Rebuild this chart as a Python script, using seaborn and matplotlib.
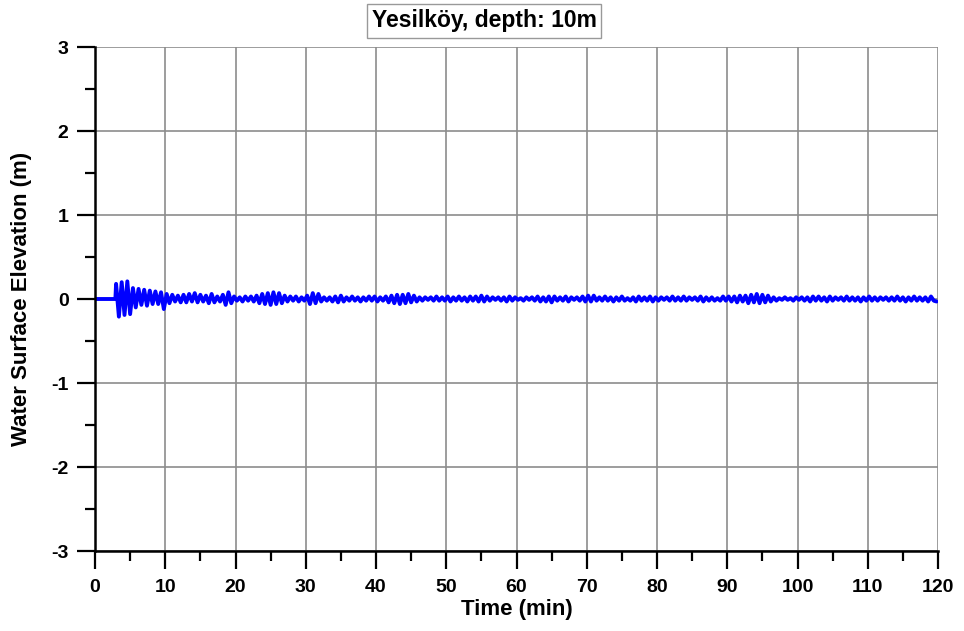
import numpy as np
import pandas as pd
import matplotlib
matplotlib.use("Agg")
import matplotlib.pyplot as plt
from matplotlib.ticker import MultipleLocator
import seaborn as sns

# ---- data ----
title = "Yesilköy, depth: 10m"
x_label = "Time (min)"
y_label = "Water Surface Elevation (m)"
x_ticks = [0, 10, 20, 30, 40, 50, 60, 70, 80, 90, 100, 110, 120]
y_ticks = [-3, -2, -1, 0, 1, 2, 3]

quiet_time = [0.0, 2.9]
quiet_vals = [0.0, 0.0]
wave_start = 3.0     # minutes
wave_step = 0.4      # minutes between successive extrema
wave_vals = [
    0.18, -0.21, 0.20, -0.19, 0.21, -0.18, 0.13, -0.10, 0.12, -0.07, 0.11, -0.08, 0.10,
    -0.06, 0.09, -0.06, 0.08, -0.12, 0.06, -0.05, 0.05, -0.03, 0.04, -0.04, 0.05,
    -0.04, 0.06, -0.03, 0.07, -0.04, 0.05, -0.03, 0.04, -0.05, 0.06, -0.04, 0.03, -0.03,
    0.05, -0.07, 0.08, -0.05, 0.03, -0.02, 0.02, -0.03, 0.03, -0.02, 0.03, -0.03,
    0.04, -0.05, 0.06, -0.06, 0.07, -0.07, 0.08, -0.06, 0.07, -0.05, 0.04, -0.03, 0.03,
    -0.02, 0.03, -0.03, 0.02, -0.02, 0.04, -0.06, 0.07, -0.05, 0.06, -0.03, 0.02,
    -0.02, 0.02, -0.03, 0.03, -0.04, 0.04, -0.03, 0.02, -0.02, 0.03, -0.02, 0.02, -0.03,
    0.02, -0.02, 0.03, -0.02, 0.03, -0.03, 0.02, -0.02, 0.03, -0.04, 0.04, -0.05,
    0.05, -0.06, 0.05, -0.05, 0.06, -0.04, 0.04, -0.03, 0.02, -0.02, 0.02, -0.01, 0.02,
    -0.02, 0.03, -0.02, 0.02, -0.02, 0.03, -0.03, 0.02, -0.02, 0.03, -0.02, 0.02,
    -0.03, 0.03, -0.02, 0.03, -0.03, 0.04, -0.03, 0.03, -0.02, 0.02, -0.01, 0.02, -0.02,
    0.02, -0.03, 0.03, -0.02, 0.02, -0.01, 0.01, -0.02, 0.02, -0.01, 0.02, -0.02,
    0.03, -0.03, 0.02, -0.03, 0.03, -0.04, 0.03, -0.02, 0.02, -0.02, 0.03, -0.03, 0.02,
    -0.01, 0.02, -0.02, 0.03, -0.03, 0.04, -0.03, 0.04, -0.02, 0.02, -0.02, 0.03,
    -0.02, 0.02, -0.03, 0.02, -0.02, 0.03, -0.02, 0.01, -0.02, 0.02, -0.03, 0.03, -0.02,
    0.02, -0.02, 0.03, -0.03, 0.02, -0.02, 0.02, -0.01, 0.02, -0.02, 0.03, -0.02,
    0.02, -0.02, 0.03, -0.02, 0.02, -0.01, 0.02, -0.02, 0.03, -0.03, 0.02, -0.02, 0.02,
    -0.02, 0.01, -0.02, 0.03, -0.02, 0.03, -0.03, 0.03, -0.04, 0.04, -0.03, 0.04,
    -0.05, 0.05, -0.04, 0.06, -0.05, 0.05, -0.04, 0.04, -0.03, 0.02, -0.02, 0.01, -0.01,
    0.02, -0.01, 0.01, -0.02, 0.02, -0.01, 0.02, -0.02, 0.02, -0.03, 0.03, -0.02,
    0.03, -0.02, 0.02, -0.03, 0.03, -0.02, 0.02, -0.01, 0.02, -0.02, 0.03, -0.02, 0.02,
    -0.02, 0.02, -0.03, 0.02, -0.02, 0.03, -0.02, 0.02, -0.02, 0.02, -0.01, 0.02,
    -0.02, 0.02, -0.02, 0.03, -0.02, 0.02, -0.03, 0.02, -0.02, 0.03, -0.02, 0.02, -0.02,
    0.02, -0.03, 0.03, -0.02, -0.03,
]

wave_time = list(wave_start + wave_step * np.arange(len(wave_vals)))
df = pd.DataFrame({
    "time": quiet_time + wave_time,
    "eta": quiet_vals + wave_vals,
})

# ---- style ----
sns.set_style("white")
plt.rcParams["font.family"] = ["Liberation Sans", "DejaVu Sans"]
plt.rcParams["font.weight"] = "bold"
plt.rcParams["text.color"] = "black"
plt.rcParams["axes.labelcolor"] = "black"
plt.rcParams["xtick.color"] = "black"
plt.rcParams["ytick.color"] = "black"

fig = plt.figure(figsize=(9.64, 6.31), dpi=100)
ax = fig.add_axes([95 / 964, 1 - 551 / 631, (938 - 95) / 964, (551 - 47) / 631])

sns.lineplot(data=df, x="time", y="eta", ax=ax, color="#0000ff", linewidth=2.8,
             estimator=None, sort=False)

ax.set_xlim(0, 120)
ax.set_ylim(-3, 3)
ax.set_xticks(x_ticks)
ax.set_yticks(y_ticks)
ax.set_xticklabels([str(v) for v in x_ticks], fontsize=14, fontweight="bold", color="black")
ax.set_yticklabels([str(v) for v in y_ticks], fontsize=14, fontweight="bold", color="black")
ax.xaxis.set_minor_locator(MultipleLocator(5))
ax.yaxis.set_minor_locator(MultipleLocator(0.5))
ax.tick_params(which="major", direction="out", length=13, width=1.6, color="black")
ax.tick_params(which="minor", direction="out", length=7, width=1.6, color="black")
ax.tick_params(axis="x", which="both", bottom=True, pad=7)
ax.tick_params(axis="y", which="both", left=True, pad=6)

ax.grid(True, which="major", color="#8c8c8c", linewidth=1.2)
ax.set_axisbelow(True)
for s in ["top", "right"]:
    ax.spines[s].set_visible(False)
for s in ["left", "bottom"]:
    ax.spines[s].set_color("black")
    ax.spines[s].set_linewidth(1.8)

ax.set_xlabel(x_label, fontsize=16, fontweight="bold", labelpad=2, color="black")
ax.set_ylabel(y_label, fontsize=16, fontweight="bold", labelpad=14, color="black")

fig.text(484 / 964, 1 - 21 / 631, title, ha="center", va="center",
         fontsize=16.5, fontweight="bold", color="black",
         bbox=dict(boxstyle="square,pad=0.22", facecolor="white",
                   edgecolor="#999999", linewidth=1.0))

fig.savefig("out.png", dpi=100)
